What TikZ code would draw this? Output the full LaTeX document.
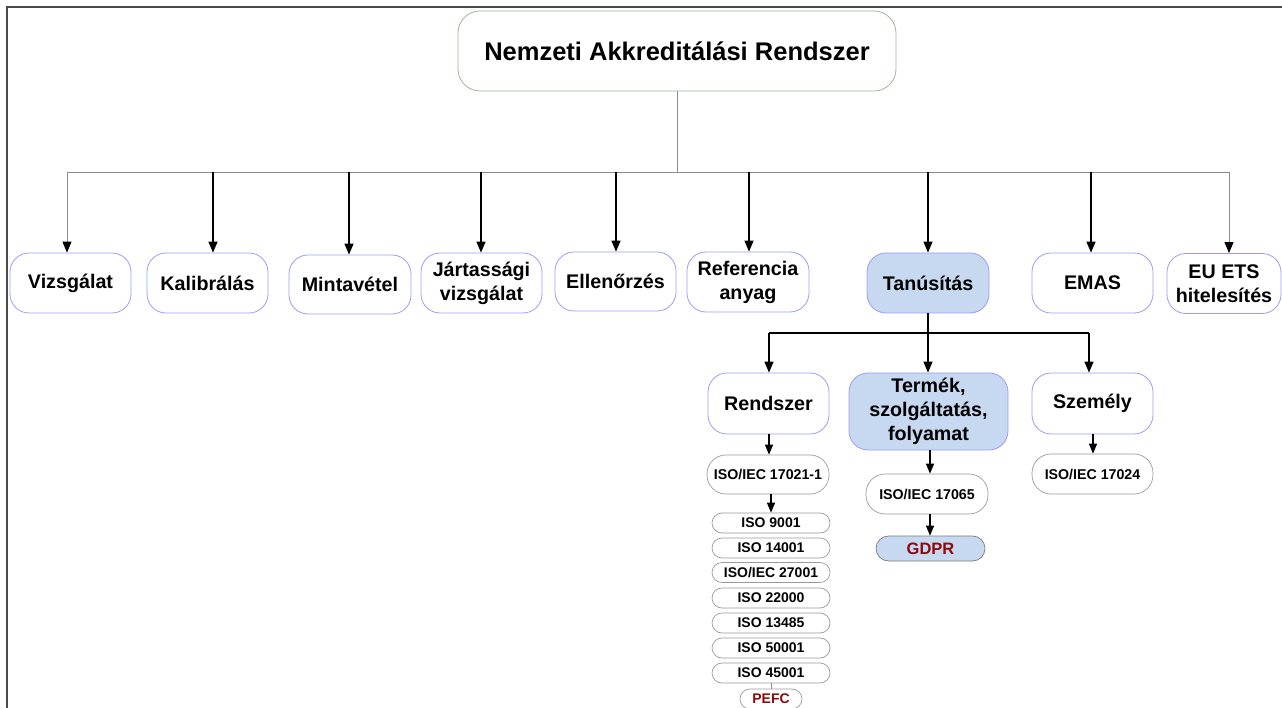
\documentclass[tikz,border=0pt]{standalone}
\usepackage{fontspec}
\setmainfont{Liberation Sans}
\usetikzlibrary{arrows.meta}
\definecolor{frameclr}{HTML}{4A4A4A}
\definecolor{lineclr}{HTML}{8C8C8C}
\definecolor{boxedge}{HTML}{9C9CF6}
\definecolor{rootedge}{HTML}{9DB59D}
\definecolor{pilledge}{HTML}{9A9A9A}
\definecolor{hlfill}{HTML}{C6D9F1}
\definecolor{darkred}{HTML}{8B0A0A}
\tikzset{
  every node/.style={inner sep=0pt, align=center},
  rootbox/.style={draw=rootedge, line width=0.8pt, rounded corners=22pt,
    minimum width=438pt, minimum height=80pt,
    font=\fontsize{25.5}{30}\selectfont\bfseries},
  mainbox/.style={draw=boxedge, line width=0.8pt, rounded corners=19pt,
    minimum width=121pt, minimum height=60pt,
    font=\fontsize{19.7}{24}\selectfont\bfseries},
  hl/.style={fill=hlfill},
  stdbox/.style={draw=pilledge, line width=0.7pt, rounded corners=19pt,
    minimum width=122pt, minimum height=40pt,
    font=\fontsize{14.2}{16}\selectfont\bfseries},
  pill/.style={draw=pilledge, line width=0.7pt, rounded corners=10pt,
    minimum width=118pt, minimum height=20pt,
    font=\fontsize{14}{16}\selectfont\bfseries},
  redtxt/.style={text=darkred},
  thinline/.style={draw=lineclr, line width=0.9pt},
  thinarrow/.style={draw=lineclr, line width=0.9pt,
    -{Triangle[length=11pt,width=9pt,color=black]}},
  arrow/.style={draw=black, line width=1.3pt, -{Triangle[length=11pt,width=9pt]}},
  sarrow/.style={draw=black, line width=1.2pt, -{Triangle[length=10pt,width=8pt]}},
  blackline/.style={draw=black, line width=1.3pt},
}
\begin{document}
\begin{tikzpicture}[x=1pt, y=-1pt]
\useasboundingbox (0,0) rectangle (1282,708);
% outer frame (top and left edges)
\draw[frameclr, line width=2pt] (7.3,712) -- (7.3,7.3) -- (1286,7.3);

% root
\node[rootbox] (root) at (677,51) {Nemzeti Akkreditálási Rendszer};

% first level
\node[mainbox] (viz) at (70.5,283) {Vizsgálat};
\node[mainbox] (kal) at (207.5,283) {Kalibrálás};
\node[mainbox, minimum height=59pt, minimum width=122pt] (min) at (350,284.5) {Mintavétel};
\node[mainbox] (jar) at (481.5,283) {Jártassági\\vizsgálat};
\node[mainbox, minimum height=59pt] (ell) at (615.5,281.5) {Ellenőrzés};
\node[mainbox, minimum width=122pt] (ref) at (748,282) {Referencia\\anyag};
\node[mainbox, hl, minimum width=122pt] (tan) at (928,283) {Tanúsítás};
\node[mainbox] (emas) at (1092.5,283) {EMAS};
\node[mainbox, minimum width=114pt] (ets) at (1224,283.5) {EU ETS\\hitelesítés};

% distribution bus
\coordinate (bus) at (677,172);
\coordinate (b1) at (67,172);
\coordinate (b2) at (213,172);
\coordinate (b3) at (349,172);
\coordinate (b4) at (481,172);
\coordinate (b5) at (616,172);
\coordinate (b6) at (749,172);
\coordinate (b7) at (928,172);
\coordinate (b8) at (1091,172);
\coordinate (b9) at (1229,172);
\draw[thinline] (root.south) -- (bus);
\draw[thinline] (b1) -- (b9);
\draw[thinarrow] (b1) -- (b1 |- viz.north);
\draw[arrow] (b2) -- (b2 |- kal.north);
\draw[arrow] (b3) -- (b3 |- min.north);
\draw[arrow] (b4) -- (b4 |- jar.north);
\draw[arrow] (b5) -- (b5 |- ell.north);
\draw[arrow] (b6) -- (b6 |- ref.north);
\draw[arrow] (b7) -- (b7 |- tan.north);
\draw[arrow] (b8) -- (b8 |- emas.north);
\draw[thinarrow] (b9) -- (b9 |- ets.north);

% certification branch
\node[mainbox, minimum height=61pt] (ren) at (768.5,403.5) {Rendszer};
\node[mainbox, hl, minimum width=159pt, minimum height=77pt] (ter) at (928.5,411.5) {Termék,\\szolgáltatás,\\folyamat};
\node[mainbox, minimum height=61pt] (sze) at (1092.5,403.5) {Személy};

\coordinate (t0) at (928,333);
\coordinate (t1) at (769,333);
\coordinate (t3) at (1089,333);
\draw[blackline] (tan.south) -- (t0);
\draw[blackline] (t1) -- (t3);
\draw[arrow] (t1) -- (t1 |- ren.north);
\draw[arrow] (t0) -- (t0 |- ter.north);
\draw[arrow] (t3) -- (t3 |- sze.north);

% standards
\node[stdbox, minimum height=39pt] (s17021) at (768,474.5) {ISO/IEC 17021-1};
\node[stdbox] (s17065) at (927,494) {ISO/IEC 17065};
\node[stdbox, minimum width=121pt] (s17024) at (1092.5,474) {ISO/IEC 17024};
\node[pill, hl, draw=pilledge!80!black, rounded corners=12.5pt, minimum width=109pt, minimum height=25pt,
  font=\fontsize{16.5}{18}\selectfont\bfseries, redtxt] (gdpr) at (930.5,548.5) {GDPR};

\node[pill] (i9001)  at (771,523)   {ISO 9001};
\node[pill] (i14001) at (771,548)   {ISO 14001};
\node[pill] (i27001) at (771,572.5) {ISO/IEC 27001};
\node[pill] (i22000) at (771,598)   {ISO 22000};
\node[pill] (i13485) at (771,623)   {ISO 13485};
\node[pill] (i50001) at (771,648)   {ISO 50001};
\node[pill] (i45001) at (771,673)   {ISO 45001};
\node[pill, minimum width=62pt, redtxt] (pefc) at (771,699) {PEFC};

\coordinate (r1) at (769,0);
\coordinate (r2) at (771,0);
\coordinate (p1) at (930,0);
\coordinate (q1) at (1093,0);
\draw[sarrow] (r1 |- ren.south) -- (r1 |- s17021.north);
\draw[sarrow] (r2 |- s17021.south) -- (r2 |- i9001.north);
\draw[thinline] (i45001.south) -- (pefc.north);
\draw[sarrow] (p1 |- ter.south) -- (p1 |- s17065.north);
\draw[sarrow] (p1 |- s17065.south) -- (p1 |- gdpr.north);
\draw[sarrow] (q1 |- sze.south) -- (q1 |- s17024.north);
\end{tikzpicture}
\end{document}
